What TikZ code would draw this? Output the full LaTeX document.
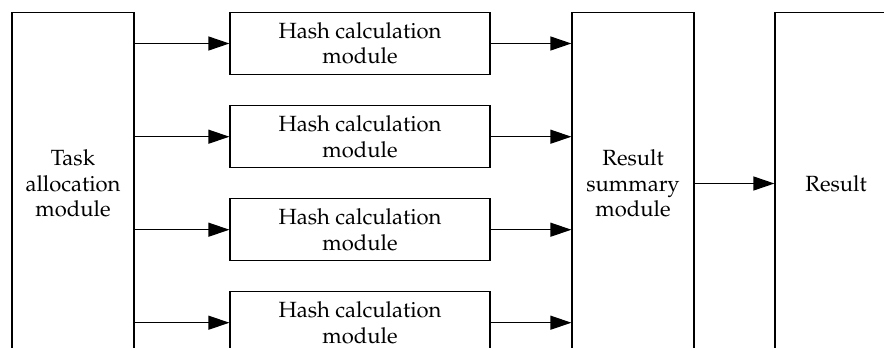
\documentclass[tikz,border=0pt]{standalone}
\usepackage[T1]{fontenc}
\usepackage{mathpazo}
\usetikzlibrary{arrows.meta}
\tikzset{
  box/.style={draw, line width=1.2pt, inner sep=0pt, align=center,
    font=\fontsize{22}{25.5}\selectfont},
  tallbox/.style={box, minimum width=122pt, minimum height=342pt},
  hashbox/.style={box, minimum width=260pt, minimum height=62pt},
  arr/.style={line width=1.2pt, -{Triangle[length=21pt,width=14pt]}}
}
\begin{document}
\begin{tikzpicture}[x=1pt,y=-1pt]
\useasboundingbox (0,0) rectangle (884,348);
\clip (0,0) rectangle (884,348);
\node[tallbox] (task) at (73,183.5) {Task\\allocation\\module};
\node[hashbox] (h1) at (360,43.5) {Hash calculation\\module};
\node[hashbox] (h2) at (360,136.7) {Hash calculation\\module};
\node[hashbox] (h3) at (360,229.7) {Hash calculation\\module};
\node[hashbox] (h4) at (360,322.7) {Hash calculation\\module};
\node[tallbox] (sum) at (633,183.5) {Result\\summary\\module};
\node[tallbox] (res) at (836,183.5) {Result};
\foreach \h in {h1,h2,h3,h4}{
  \draw[arr] (task.east |- \h.west) -- (\h.west);
  \draw[arr] (\h.east) -- (sum.west |- \h.east);
}
\draw[arr] (sum.east) -- (res.west);
\end{tikzpicture}
\end{document}
